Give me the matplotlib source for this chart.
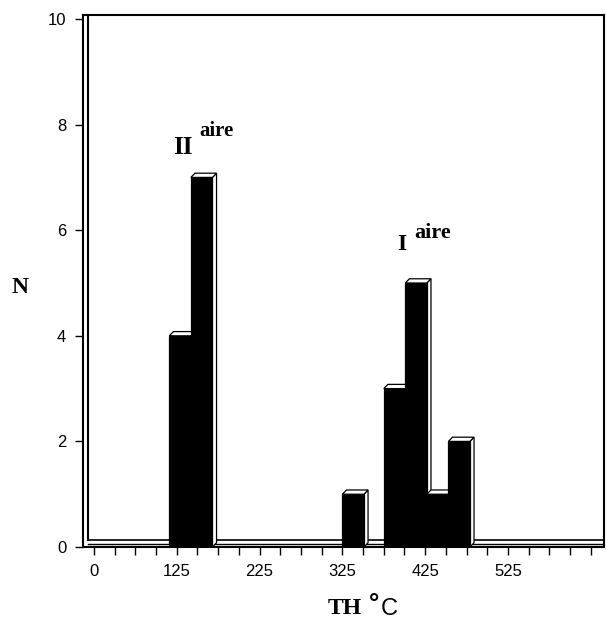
import matplotlib.pyplot as plt
from matplotlib.patches import Polygon

# histogram of homogenisation temperatures
centers = [129, 155, 338, 388, 414, 440, 466]
counts = [4, 7, 1, 3, 5, 1, 2]
width = 26

xtick_pos = [25, 125, 225, 325, 425, 525]
xtick_labels = ["0", "125", "225", "325", "425", "525"]
yticks = [0, 2, 4, 6, 8, 10]

W, H = 606, 628
def fpx(x, y):
    return x / W, 1 - y / H

fig = plt.figure(figsize=(W / 100, H / 100), dpi=100)
ax = fig.add_axes([83 / W, (H - 547) / H, (604 - 83) / W, (547 - 15) / H])
ax.set_xlim(11.7, 641)
ax.set_ylim(0, 10.076)

dx, dy = 5, 0.08
lw = 0.9

# floor slab and inner wall
ax.plot([17.8, 641], [0.13, 0.13], color="black", lw=1.2, zorder=1)
ax.plot([17.8, 641], [0.055, 0.055], color="black", lw=1.0, zorder=1)
ax.plot([17.8, 17.8], [0.13, 10.076], color="black", lw=1.5, zorder=1)

for i, (c, h) in enumerate(zip(centers, counts)):
    x0 = c - width / 2
    x1 = c + width / 2
    z = 3 + i
    front = Polygon([(x0, 0), (x1, 0), (x1, h), (x0, h)], closed=True,
                    facecolor="black", edgecolor="black", lw=lw, zorder=z)
    top = Polygon([(x0, h), (x1, h), (x1 + dx, h + dy), (x0 + dx, h + dy)], closed=True,
                  facecolor="white", edgecolor="black", lw=lw, zorder=z)
    side = Polygon([(x1, 0), (x1 + dx, dy), (x1 + dx, h + dy), (x1, h)], closed=True,
                   facecolor="white", edgecolor="black", lw=lw, zorder=z)
    ax.add_patch(side)
    ax.add_patch(front)
    ax.add_patch(top)

for s in ["left", "bottom", "top", "right"]:
    ax.spines[s].set_linewidth(1.5)

ax.set_yticks(yticks)
ax.set_yticklabels([str(v) for v in yticks], fontfamily="Liberation Sans", fontsize=12)
ax.set_xticks(xtick_pos)
ax.set_xticklabels(xtick_labels, fontfamily="Liberation Sans", fontsize=12)
ax.set_xticks(list(range(25, 650, 25)), minor=True)
ax.tick_params(axis="both", which="both", direction="out", length=6, width=1.0, pad=6)

serif = "Liberation Serif"
fig.text(*fpx(20, 287), "N", fontfamily=serif, fontweight="bold", fontsize=17,
         ha="center", va="center")
fig.text(*fpx(183, 148), "II", fontfamily=serif, fontweight="bold", fontsize=18,
         ha="center", va="center")
fig.text(*fpx(216, 131), "aire", fontfamily=serif, fontweight="bold", fontsize=15,
         ha="center", va="center")
fig.text(*fpx(402, 245), "I", fontfamily=serif, fontweight="bold", fontsize=17,
         ha="center", va="center")
fig.text(*fpx(433, 233), "aire", fontfamily=serif, fontweight="bold", fontsize=16,
         ha="center", va="center")
fig.text(*fpx(345, 609), "TH", fontfamily=serif, fontweight="bold", fontsize=17,
         ha="center", va="center")
fig.text(*fpx(374, 605), "\u00b0", fontfamily="DejaVu Sans", fontweight="bold", fontsize=18,
         ha="center", va="center")
fig.text(*fpx(389, 609), "C", fontfamily="Liberation Sans", fontsize=17,
         ha="center", va="center")

fig.savefig("out.png", dpi=100)
